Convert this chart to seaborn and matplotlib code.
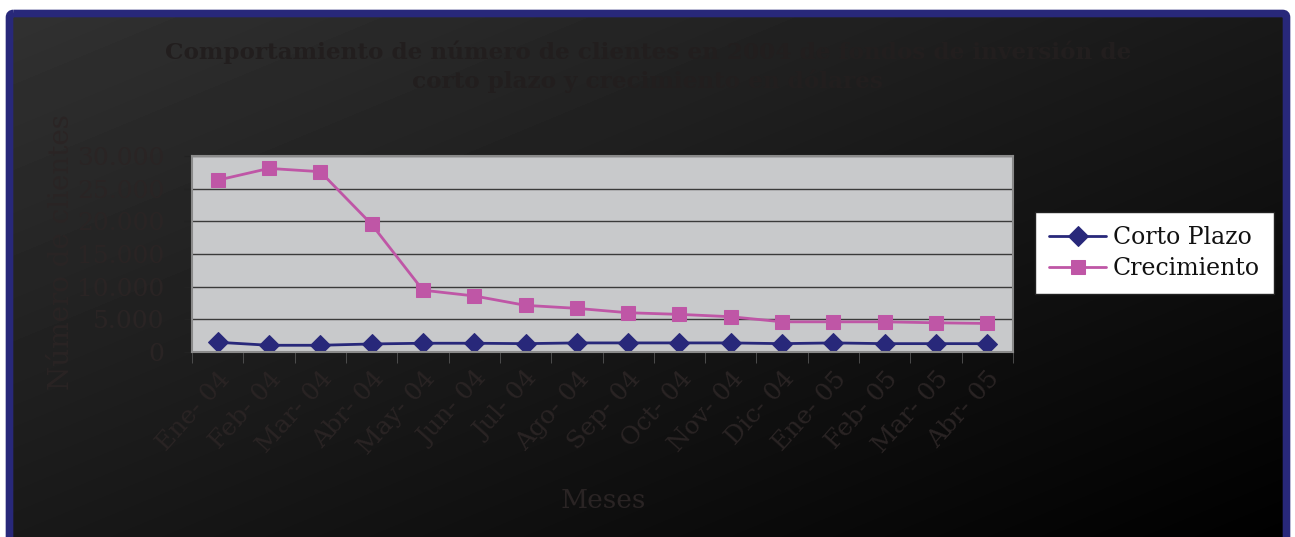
import numpy as np
import pandas as pd
import seaborn as sns
import matplotlib.pyplot as plt
from matplotlib.patches import FancyBboxPatch
from matplotlib.ticker import FuncFormatter, FixedLocator

# numero de clientes por mes, fondos de inversion
meses = ["Ene- 04", "Feb- 04", "Mar- 04", "Abr- 04", "May- 04", "Jun- 04",
         "Jul- 04", "Ago- 04", "Sep- 04", "Oct- 04", "Nov- 04", "Dic- 04",
         "Ene- 05", "Feb- 05", "Mar- 05", "Abr- 05"]
corto_plazo = [1490, 1030, 1030, 1230, 1340, 1340, 1280, 1390,
               1390, 1390, 1390, 1280, 1390, 1280, 1280, 1280]
crecimiento = [26300, 28100, 27600, 19550, 9460, 8580, 7140, 6680,
               6010, 5760, 5400, 4620, 4620, 4620, 4470, 4370]

TXT = "#2a2424"
NAVY = "#28287a"
PINK = "#bf56a6"


def miles(value, pos):
    if value == 0:
        return "0"
    return "{:,.0f}".format(value).replace(",", ".")


df = pd.concat([
    pd.DataFrame({"mes": meses, "clientes": corto_plazo, "serie": "Corto Plazo"}),
    pd.DataFrame({"mes": meses, "clientes": crecimiento, "serie": "Crecimiento"}),
])

sns.set_style("white")
plt.rcParams["font.family"] = ["DejaVu Serif", "DejaVu Sans"]

fig = plt.figure(figsize=(12.95, 5.37), dpi=100)
fig.patch.set_facecolor("white")

# fondo: degradado diagonal dentro de un marco azul
bg = fig.add_axes([0, 0, 1, 1], zorder=-10)
bg.set_xlim(0, 1295)
bg.set_ylim(537, 0)
bg.axis("off")
yy, xx = np.mgrid[0:537, 0:1295]
grad = 0.196 * (1 - (xx / 1295 + yy / 537) / 2)
frame = FancyBboxPatch((9.5, 13.5), 1277, 560, boxstyle="round,pad=0,rounding_size=4",
                       facecolor="none", edgecolor=NAVY, linewidth=5.5)
bg.add_patch(frame)
img = bg.imshow(grad, cmap="gray", vmin=0, vmax=1, extent=(0, 1295, 537, 0),
                aspect="auto", zorder=0)
img.set_clip_path(frame)

ax = fig.add_axes([192 / 1295, 1 - 352 / 537, 821 / 1295, 196 / 537])
ax.set_facecolor("#c8c9cb")
sns.lineplot(data=df, x="mes", y="clientes", hue="serie", style="serie",
             palette={"Corto Plazo": NAVY, "Crecimiento": PINK},
             markers={"Corto Plazo": "D", "Crecimiento": "s"}, dashes=False,
             markersize=10, linewidth=2, sort=False, ax=ax)
for line in ax.lines:
    line.set_markeredgecolor(line.get_color())

ax.set_xlim(-0.5, len(meses) - 0.5)
ax.set_ylim(0, 30000)
ax.set_yticks(range(0, 30001, 5000))
ax.yaxis.set_major_formatter(FuncFormatter(miles))
ax.yaxis.grid(True, color="#3a3a3a", linewidth=1)
ax.set_axisbelow(True)
ax.xaxis.set_minor_locator(FixedLocator(np.arange(-0.5, len(meses), 1)))
ax.tick_params(axis="x", which="major", length=0, pad=11)
ax.tick_params(axis="x", which="minor", length=8, color="#555555", direction="out", bottom=True)
ax.tick_params(axis="y", length=6, color="#222222", direction="out", left=True, pad=14)
plt.setp(ax.get_xticklabels(), rotation=48, ha="right", rotation_mode="anchor",
         fontsize=18, color=TXT)
plt.setp(ax.get_yticklabels(), fontsize=18, color=TXT)
for s in ax.spines.values():
    s.set_color("#8a8a8a")
    s.set_linewidth(1.5)
ax.set_xlabel("")
ax.set_ylabel("")

fig.text(62 / 1295, 1 - 252 / 537, "Número de clientes", rotation=90, ha="center",
         va="center", fontsize=20, color=TXT)
fig.text(603 / 1295, 1 - 500 / 537, "Meses", ha="center", va="center",
         fontsize=19, color=TXT)
fig.text(648 / 1295, 1 - 67 / 537,
         "Comportamiento de número de clientes en 2004 de fondos de inversión de\n"
         "corto plazo y crecimiento en dólares",
         ha="center", va="center", fontsize=16.7, fontweight="bold", color="#221e1e",
         linespacing=1.3)

leg = ax.legend(loc="center left", bbox_to_anchor=(1035 / 1295, 1 - 253 / 537),
                bbox_transform=fig.transFigure, frameon=True, fancybox=False,
                fontsize=17, handlelength=2.4, borderpad=0.6, labelspacing=0.35,
                handletextpad=0.3, borderaxespad=0, framealpha=1)
leg.get_frame().set_facecolor("white")
leg.get_frame().set_edgecolor("#222222")
leg.get_frame().set_linewidth(1)
for t in leg.get_texts():
    t.set_color("#111111")

fig.savefig("out.png", dpi=100)
